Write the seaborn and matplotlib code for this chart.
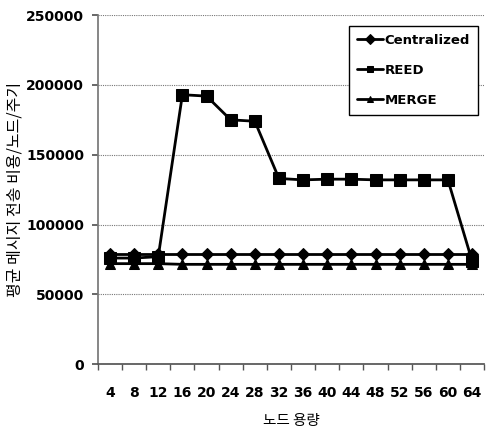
import matplotlib
matplotlib.use("Agg")
import matplotlib.pyplot as plt
import seaborn as sns
import pandas as pd
import numpy as np

capacity = [4, 8, 12, 16, 20, 24, 28, 32, 36, 40, 44, 48, 52, 56, 60, 64]
centralized = [79000] * 16
reed = [76000, 76000, 77000, 193000, 192000, 175000, 174000, 133000, 132000, 132500, 132500, 132000, 132000, 132000, 132000, 74000]
merge = [72000, 72000, 72000, 71500, 71500, 71500, 71500, 71500, 71500, 71500, 71500, 71500, 71500, 71500, 71500, 71500]
series_names = ["Centralized", "REED", "MERGE"]

sns.set_theme(style="white")
plt.rcParams['font.family'] = ['Noto Sans CJK KR', 'DejaVu Sans']
plt.rcParams.update({"text.color": "black", "axes.labelcolor": "black",
                     "xtick.color": "black", "ytick.color": "black"})

rows = []
for name, vals in zip(series_names, [centralized, reed, merge]):
    for i, (c, v) in enumerate(zip(capacity, vals)):
        rows.append({"pos": i, "cap": c, "value": v, "series": name})
df = pd.DataFrame(rows)

fig = plt.figure(figsize=(4.92, 4.32), dpi=100)
ax = fig.add_axes([0.199, 0.157, 0.785, 0.808])

sns.lineplot(data=df, x="pos", y="value", hue="series", style="series",
             palette=["black"] * 3, markers={"Centralized": "D", "REED": "s", "MERGE": "^"},
             dashes=False, markersize=7, linewidth=2, ax=ax, legend=True,
             markeredgecolor="black")
for line, ms in zip(ax.lines[:3], [6, 9, 7]):
    line.set_markersize(ms)

ax.set_xlim(-0.5, len(capacity) - 0.5)
ax.set_ylim(0, 250000)
ax.set_yticks([0, 50000, 100000, 150000, 200000, 250000])
ax.set_yticklabels([str(v) for v in [0, 50000, 100000, 150000, 200000, 250000]],
                   fontweight="bold", fontsize=10, family=['DejaVu Sans'])
ax.set_xticks(range(len(capacity)))
ax.set_xticklabels([str(c) for c in capacity], fontweight="bold", fontsize=10, family=['DejaVu Sans'])
ax.set_xticks(np.arange(-0.5, len(capacity), 1.0), minor=True)
ax.tick_params(axis="x", which="major", length=0, pad=16)
ax.tick_params(axis="x", which="minor", length=4, direction="out", color="#555555", bottom=True)
ax.tick_params(axis="y", length=4, direction="out", color="#555555", left=True, pad=6)

ax.grid(axis="y", linestyle=(0, (1, 1)), color="#777777", linewidth=0.8)
ax.set_axisbelow(True)
for s in ["top", "right"]:
    ax.spines[s].set_visible(False)
ax.spines["left"].set_color("#777777")
ax.spines["left"].set_linestyle((0, (1, 1)))
ax.spines["bottom"].set_color("#555555")

ax.set_xlabel("노드 용량", fontsize=10.5, labelpad=10)
ax.set_ylabel("평균 메시지 전송 비용/노드/주기", fontsize=11.5, labelpad=2)

leg = ax.legend(loc="upper right", bbox_to_anchor=(0.984, 0.97), frameon=True, fancybox=False,
                edgecolor="black",
                prop={"weight": "bold", "size": 9.5, "family": "DejaVu Sans"},
                handlelength=2.0, labelspacing=1.3, borderpad=0.6, handletextpad=0.1,
                markerscale=0.7, borderaxespad=0)
leg.get_frame().set_linewidth(1.0)
leg.get_frame().set_facecolor("white")
leg.get_frame().set_alpha(1)

fig.savefig("out.png", dpi=100)
